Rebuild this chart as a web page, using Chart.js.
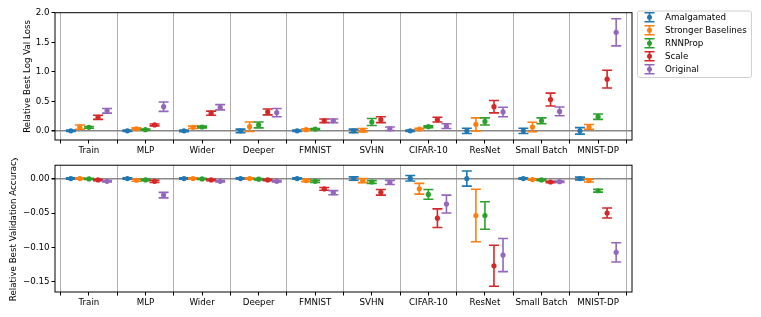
<!DOCTYPE html>
<html>
<head>
<meta charset="utf-8">
<script src="https://cdn.jsdelivr.net/npm/chart.js@4.4.1/dist/chart.umd.min.js"></script>
<style>
  html, body { margin: 0; padding: 0; background: #fff; }
  #wrap { position: relative; width: 761px; height: 317px; }
  .box { position: absolute; left: 0; width: 761px; }
</style>
</head>
<body>
<div id="wrap">
  <div class="box" style="top:0;height:158px"><canvas id="lossChart"></canvas></div>
  <div class="box" style="top:158px;height:159px"><canvas id="accChart"></canvas></div>
</div>
<script>
const categories = ['Train', 'MLP', 'Wider', 'Deeper', 'FMNIST', 'SVHN', 'CIFAR-10', 'ResNet', 'Small Batch', 'MNIST-DP'];
const seriesNames = ['Amalgamated', 'Stronger Baselines', 'RNNProp', 'Scale', 'Original'];
const seriesColors = ['#1f77b4', '#ff7f0e', '#2ca02c', '#d62728', '#9467bd'];
const seriesOffsets = [-0.32, -0.16, 0, 0.16, 0.32];

// relative best log val loss (mean, error)
const lossAmalgamated = [0, 0, 0, 0, 0, 0, 0, 0, 0, 0];
const lossAmalgamatedErr = [0.012, 0.012, 0.015, 0.03, 0.012, 0.03, 0.012, 0.045, 0.045, 0.055];
const lossStronger = [0.063, 0.035, 0.06, 0.07, 0.02, 0.01, 0.03, 0.11, 0.065, 0.068];
const lossStrongerErr = [0.035, 0.015, 0.02, 0.08, 0.015, 0.03, 0.015, 0.11, 0.08, 0.04];
const lossRNNProp = [0.06, 0.02, 0.065, 0.10, 0.03, 0.15, 0.07, 0.16, 0.17, 0.24];
const lossRNNPropErr = [0.015, 0.01, 0.015, 0.05, 0.01, 0.06, 0.015, 0.06, 0.05, 0.045];
const lossScale = [0.23, 0.10, 0.30, 0.32, 0.17, 0.19, 0.19, 0.41, 0.53, 0.876];
const lossScaleErr = [0.035, 0.015, 0.035, 0.05, 0.03, 0.05, 0.04, 0.105, 0.11, 0.15];
const lossOriginal = [0.34, 0.41, 0.40, 0.31, 0.17, 0.035, 0.08, 0.32, 0.33, 1.67];
const lossOriginalErr = [0.04, 0.08, 0.045, 0.07, 0.03, 0.03, 0.04, 0.08, 0.075, 0.23];

// relative best validation accuracy (mean, error)
const accAmalgamated = [0, 0, 0, 0, 0, 0, 0.0005, 0, 0, 0];
const accAmalgamatedErr = [0.001, 0.001, 0.001, 0.001, 0.001, 0.0024, 0.004, 0.011, 0.001, 0.002];
const accStronger = [0, -0.0025, 0, 0, -0.003, -0.003, -0.0148, -0.0536, -0.0015, -0.003];
const accStrongerErr = [0.001, 0.0015, 0.001, 0.001, 0.0015, 0.003, 0.0078, 0.038, 0.001, 0.002];
const accRNNProp = [-0.0005, -0.002, -0.0005, -0.001, -0.004, -0.005, -0.023, -0.0536, -0.002, -0.0177];
const accRNNPropErr = [0.001, 0.001, 0.001, 0.001, 0.0015, 0.002, 0.007, 0.020, 0.001, 0.002];
const accScale = [-0.002, -0.004, -0.002, -0.002, -0.015, -0.020, -0.0575, -0.1265, -0.005, -0.050];
const accScaleErr = [0.001, 0.0015, 0.001, 0.001, 0.002, 0.004, 0.0135, 0.0297, 0.001, 0.0072];
const accOriginal = [-0.004, -0.024, -0.004, -0.004, -0.0205, -0.0057, -0.037, -0.111, -0.0045, -0.107];
const accOriginalErr = [0.001, 0.004, 0.001, 0.001, 0.003, 0.003, 0.013, 0.024, 0.001, 0.0139];

const lossTicks = [0, 0.5, 1, 1.5, 2];
const accTicks = [0, -0.05, -0.1, -0.15];

const FONT = 'DejaVu Sans';
const FS = 8.7;

const errorBars = {
  id: 'errorBars',
  beforeDatasetsDraw(chart) {
    const { ctx } = chart;
    const xs = chart.scales.x, ys = chart.scales.y;
    chart.data.datasets.forEach(ds => {
      ctx.save();
      ctx.strokeStyle = ds.borderColor;
      ctx.lineWidth = 1.6;
      ds.data.forEach(p => {
        const px = xs.getPixelForValue(p.x);
        const top = ys.getPixelForValue(p.y + p.err);
        const bot = ys.getPixelForValue(p.y - p.err);
        ctx.beginPath();
        ctx.moveTo(px, top); ctx.lineTo(px, bot);
        ctx.moveTo(px - 5, top); ctx.lineTo(px + 5, top);
        ctx.moveTo(px - 5, bot); ctx.lineTo(px + 5, bot);
        ctx.stroke();
      });
      ctx.restore();
    });
  }
};

const frame = {
  id: 'frame',
  afterDraw(chart) {
    const { ctx, chartArea: a } = chart;
    ctx.save();
    ctx.strokeStyle = '#000';
    ctx.lineWidth = 1;
    ctx.strokeRect(a.left, a.top, a.right - a.left, a.bottom - a.top);
    ctx.restore();
  }
};

const legendBox = {
  id: 'legendBox',
  afterDraw(chart) {
    const { ctx } = chart;
    const x0 = 637, y0 = 10.5, w = 114, h = 66.5;
    ctx.save();
    ctx.beginPath();
    ctx.roundRect(x0 + 0.5, y0 + 0.5, w, h, 2);
    ctx.fillStyle = 'rgba(255,255,255,0.8)';
    ctx.fill();
    ctx.strokeStyle = '#d0d0d0';
    ctx.lineWidth = 1;
    ctx.stroke();
    ctx.font = FS + 'px "' + FONT + '"';
    ctx.textBaseline = 'middle';
    seriesNames.forEach((name, i) => {
      const cy = 17.3 + i * 13;
      const cx = 649.5;
      ctx.strokeStyle = seriesColors[i];
      ctx.fillStyle = seriesColors[i];
      ctx.lineWidth = 1.6;
      ctx.beginPath();
      ctx.moveTo(cx, cy - 4.5); ctx.lineTo(cx, cy + 4.5);
      ctx.moveTo(cx - 5, cy - 4.5); ctx.lineTo(cx + 5, cy - 4.5);
      ctx.moveTo(cx - 5, cy + 4.5); ctx.lineTo(cx + 5, cy + 4.5);
      ctx.stroke();
      ctx.beginPath();
      ctx.arc(cx, cy, 2.5, 0, Math.PI * 2);
      ctx.fill();
      ctx.fillStyle = '#000';
      ctx.fillText(name, 665, cy);
    });
    ctx.restore();
  }
};

function makeChart(id, means, errs, o) {
  const datasets = seriesNames.map((name, s) => ({
    label: name,
    data: categories.map((c, i) => ({ x: i + seriesOffsets[s], y: means[s][i], err: errs[s][i] })),
    borderColor: seriesColors[s],
    backgroundColor: seriesColors[s],
    pointRadius: 2.6,
    pointBorderWidth: 0,
    pointHoverRadius: 2.6
  }));
  const plugins = [errorBars, frame];
  if (o.legend) plugins.push(legendBox);
  return new Chart(document.getElementById(id), {
    type: 'scatter',
    data: { datasets },
    plugins,
    options: {
      responsive: true,
      maintainAspectRatio: false,
      animation: false,
      layout: { padding: o.padding },
      plugins: { legend: { display: false }, tooltip: { enabled: false } },
      scales: {
        x: {
          type: 'linear',
          min: -0.6,
          max: 9.6,
          afterBuildTicks(scale) {
            const t = [];
            for (let v = -0.5; v <= 9.51; v += 0.5) t.push({ value: Math.round(v * 2) / 2 });
            scale.ticks = t;
          },
          afterFit(scale) { scale.height = o.xHeight; },
          border: { display: false },
          grid: {
            color: ctx => (Math.abs(ctx.tick.value % 1) === 0.5 ? '#b0b0b0' : 'rgba(0,0,0,0)'),
            tickColor: '#000',
            tickLength: 3.5,
            lineWidth: 1
          },
          ticks: {
            autoSkip: false,
            maxRotation: 0,
            padding: 2,
            color: '#000',
            font: { family: FONT, size: FS },
            callback: v => (Number.isInteger(v) ? categories[v] : '')
          }
        },
        y: {
          min: o.yMin,
          max: o.yMax,
          afterBuildTicks(scale) { scale.ticks = o.yTicks.map(v => ({ value: v })); },
          afterFit(scale) { scale.width = o.yWidth; },
          border: { display: false },
          grid: {
            color: ctx => (ctx.tick.value === 0 ? '#888' : 'rgba(0,0,0,0)'),
            lineWidth: ctx => (ctx.tick.value === 0 ? 1.5 : 1),
            tickColor: '#000',
            tickLength: 3.5
          },
          ticks: {
            padding: 2,
            color: '#000',
            font: { family: FONT, size: FS },
            callback: o.fmt
          },
          title: {
            display: true,
            text: o.title,
            color: '#000',
            font: { family: FONT, size: FS },
            padding: { top: 0, bottom: 0 }
          }
        }
      }
    }
  });
}

makeChart('lossChart',
  [lossAmalgamated, lossStronger, lossRNNProp, lossScale, lossOriginal],
  [lossAmalgamatedErr, lossStrongerErr, lossRNNPropErr, lossScaleErr, lossOriginalErr],
  {
    title: 'Relative Best Log Val Loss',
    yMin: -0.155, yMax: 2.002, yTicks: lossTicks,
    fmt: v => v.toFixed(1),
    padding: { left: 22.8, right: 129, top: 12.7, bottom: 0 },
    yWidth: 32.2, xHeight: 18,
    legend: true
  });

makeChart('accChart',
  [accAmalgamated, accStronger, accRNNProp, accScale, accOriginal],
  [accAmalgamatedErr, accStrongerErr, accRNNPropErr, accScaleErr, accOriginalErr],
  {
    title: 'Relative Best Validation Accuracy',
    yMin: -0.1645, yMax: 0.0193, yTicks: accTicks,
    fmt: v => v.toFixed(2).replace('-', '\u2212'),
    padding: { left: 8.8, right: 129, top: 6.3, bottom: 0 },
    yWidth: 46.2, xHeight: 25,
    legend: false
  });
</script>
</body>
</html>
